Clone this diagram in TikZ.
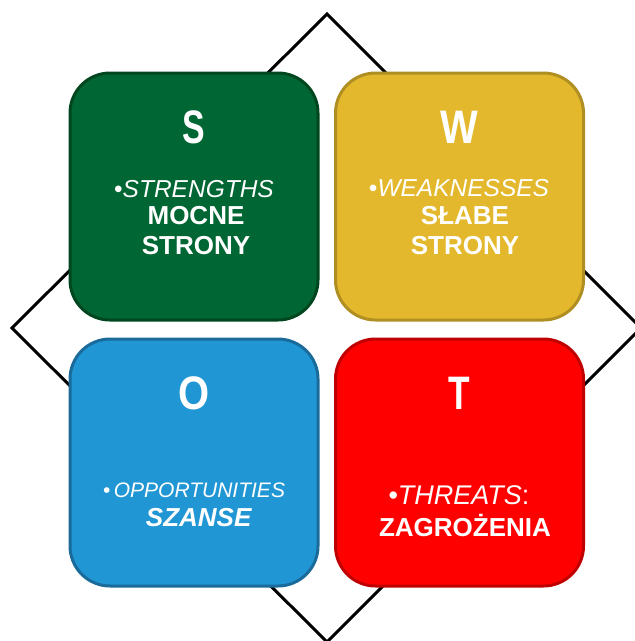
\documentclass[tikz,border=0pt]{standalone}
\usepackage{fontspec}
\setmainfont{Liberation Sans}
\definecolor{sgreen}{HTML}{006633}
\definecolor{sgreenb}{HTML}{00471F}
\definecolor{wyel}{HTML}{E4B82C}
\definecolor{wyelb}{HTML}{B08F22}
\definecolor{oblue}{HTML}{2196D4}
\definecolor{oblueb}{HTML}{1A6A9A}
\definecolor{tred}{HTML}{FF0000}
\definecolor{tredb}{HTML}{C00000}
\tikzset{
  box/.style={rectangle, rounded corners=40pt, minimum width=248pt, minimum height=247pt, line width=3pt},
  letter/.style={text=white, font=\fontsize{47}{47}\selectfont\bfseries, inner sep=0pt},
  eng/.style={text=white, font=\fontsize{24.5}{28}\selectfont, inner sep=0pt},
  pol/.style={text=white, font=\fontsize{26}{30}\selectfont\bfseries, align=center, inner sep=0pt},
  frame/.style={line width=3pt, line join=miter}
}
\begin{document}
\begin{tikzpicture}[x=1pt,y=-1pt]
\useasboundingbox (0,0) rectangle (635,641);
\clip (0,0) rectangle (635,641);
\coordinate (dt) at (327,14);
\coordinate (dr) at (641,328);
\coordinate (db) at (327,642);
\coordinate (dl) at (12,328);
\draw[frame] (dt) -- (dr) -- (db) -- (dl) -- cycle;

\node[box, fill=sgreen, draw=sgreenb] (sbox) at (194,196.5) {};
\node[box, fill=wyel, draw=wyelb] (wbox) at (459.5,196.5) {};
\node[box, fill=oblue, draw=oblueb] (obox) at (194,462.5) {};
\node[box, fill=tred, draw=tredb] (tbox) at (459.5,462.5) {};

\node[letter] (sl) at (194,127) {\scalebox{0.72}[1]{S}};
\node[eng] (se) at (194,189) {•\textit{STRENGTHS}};
\node[pol] (sp) at (196,231) {MOCNE\\STRONY};

\node[letter] (wl) at (459,127) {\scalebox{0.85}[1]{W}};
\node[eng] (we) at (459,188) {•\textit{WEAKNESSES}};
\node[pol] (wp) at (465,231) {SŁABE\\STRONY};

\node[letter] (ol) at (194,393) {\scalebox{0.85}[1]{O}};
\node[eng, font=\fontsize{21}{25}\selectfont] (oe) at (194,490) {•\,\textit{OPPORTUNITIES}};
\node[pol] (op) at (199,518) {\textit{SZANSE}};

\node[letter] (tl) at (459,393) {\scalebox{0.75}[1]{T}};
\node[eng, font=\fontsize{27}{31}\selectfont] (te) at (459,495) {•\textit{THREATS}:};
\node[pol] (tp) at (465,525) {ZAGROŻENIA};
\end{tikzpicture}
\end{document}
